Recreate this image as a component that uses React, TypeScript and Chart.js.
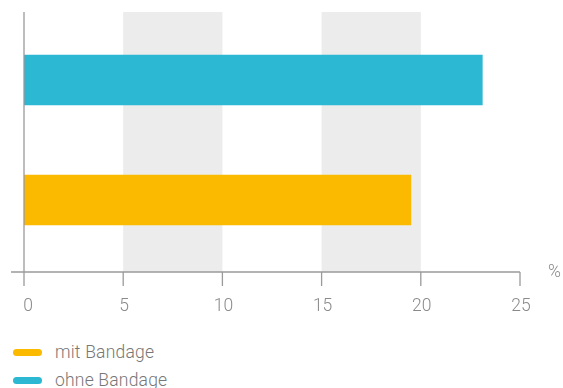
import React, { useEffect, useRef } from "react";
import { Chart, registerables } from "chart.js";

Chart.register(...registerables);

const categories = ["ohne Bandage", "mit Bandage"];
const values = [23.1, 19.5];
const barColors = ["#2cb7d3", "#fbba00"];
const legendOrder = [1, 0];
const xTicks = [0, 5, 10, 15, 20, 25];
const unitLabel = "%";

const FONT = "Roboto";

const decorPlugin = {
  id: "decor",
  beforeDatasetsDraw(chart: any) {
    const { ctx, chartArea, scales } = chart;
    const x = scales.x;
    const top = chartArea.top - 8;
    const axisY = chartArea.bottom + 12;
    ctx.save();
    ctx.fillStyle = "#ebeceb";
    for (let i = 1; i + 1 < xTicks.length; i += 2) {
      const a = x.getPixelForValue(xTicks[i]);
      const b = x.getPixelForValue(xTicks[i + 1]);
      ctx.fillRect(a, top, b - a, axisY - top);
    }
    ctx.restore();
  },
  afterDatasetsDraw(chart: any) {
    const { ctx, chartArea, scales } = chart;
    const x = scales.x;
    const top = chartArea.top - 8;
    const axisY = chartArea.bottom + 12;
    const tickEnd = axisY + 14;
    ctx.save();
    ctx.strokeStyle = "#9a9a9a";
    ctx.lineWidth = 1.3;
    ctx.beginPath();
    const x0 = x.getPixelForValue(xTicks[0]);
    ctx.moveTo(x0, top);
    ctx.lineTo(x0, tickEnd);
    ctx.moveTo(chartArea.left - 13, axisY);
    ctx.lineTo(x.getPixelForValue(xTicks[xTicks.length - 1]), axisY);
    for (let i = 1; i < xTicks.length; i++) {
      const p = x.getPixelForValue(xTicks[i]);
      ctx.moveTo(p, axisY);
      ctx.lineTo(p, tickEnd);
    }
    ctx.stroke();
    ctx.fillStyle = "#8a8a8a";
    ctx.font = `300 17.5px ${FONT}`;
    ctx.textBaseline = "middle";
    ctx.textAlign = "center";
    for (const t of xTicks) {
      ctx.fillText(String(t), x.getPixelForValue(t) + (t === 0 ? 4 : 1), axisY + 35);
    }
    ctx.textAlign = "left";
    ctx.fillText(unitLabel, chartArea.right + 28, axisY + 1);
    ctx.restore();
  },
};

export default function App() {
  const ref = useRef<HTMLCanvasElement | null>(null);
  useEffect(() => {
    if (!ref.current) return;
    const chart = new Chart(ref.current, {
      type: "bar",
      data: {
        labels: categories,
        datasets: [
          {
            data: values,
            backgroundColor: barColors,
            borderWidth: 0,
            barThickness: 50,
          },
        ],
      },
      options: {
        indexAxis: "y",
        animation: false,
        responsive: false,
        maintainAspectRatio: false,
        layout: { padding: { left: 24, right: 43, top: 20, bottom: 60 } },
        plugins: { legend: { display: false }, tooltip: { enabled: false } },
        scales: {
          x: { display: false, min: 0, max: 25, ticks: { stepSize: 5 } },
          y: { display: false },
        },
      },
      plugins: [decorPlugin],
    });
    return () => chart.destroy();
  }, []);

  return (
    <div style={{ position: "absolute", left: 0, top: 0, width: 563, height: 388, background: "#fff", fontFamily: FONT }}>
      <canvas ref={ref} width={563} height={320} style={{ position: "absolute", left: 0, top: 0, width: 563, height: 320 }} />
      <div style={{ position: "absolute", left: 13, top: 338 }}>
        {legendOrder.map((i) => (
          <div key={categories[i]} style={{ display: "flex", alignItems: "center", height: 28 }}>
            <span style={{ display: "inline-block", width: 29, height: 7, borderRadius: 4, background: barColors[i], marginRight: 13 }} />
            <span style={{ fontSize: 17.5, fontWeight: 300, color: "#777", lineHeight: "28px", letterSpacing: 0.2 }}>{categories[i]}</span>
          </div>
        ))}
      </div>
    </div>
  );
}
